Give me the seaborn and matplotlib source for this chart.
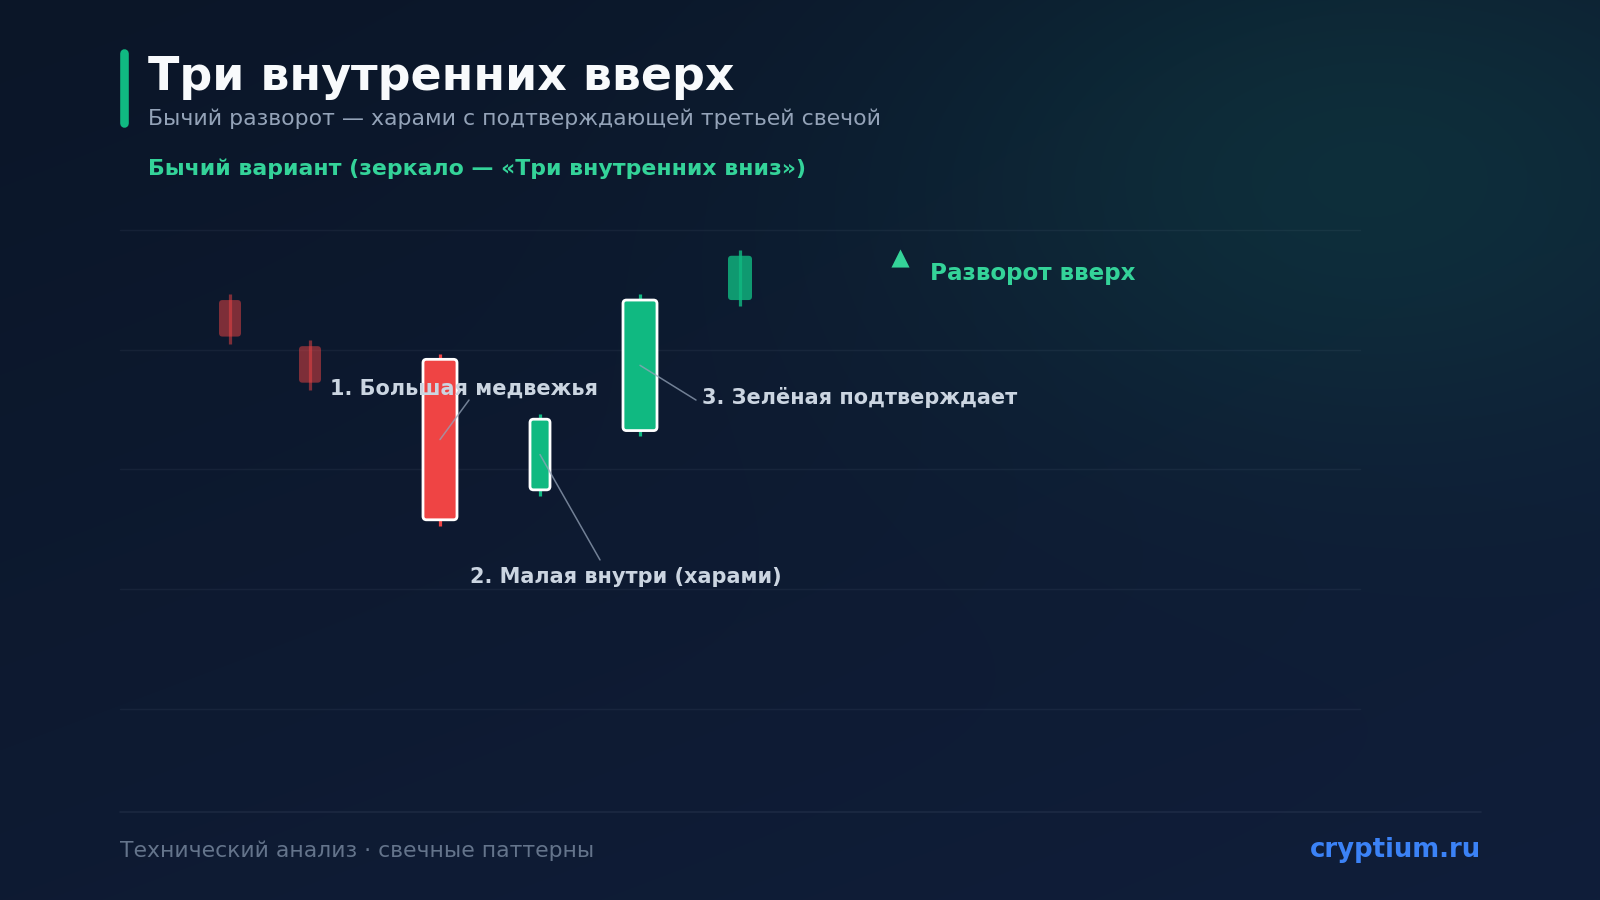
import numpy as np
import seaborn as sns
import matplotlib.pyplot as plt
from matplotlib.patches import FancyBboxPatch
from matplotlib.lines import Line2D

# Свечи: позиции и цены (open / high / low / close)
candle_x = [1.1, 1.9, 3.2, 4.2, 5.2, 6.2]
opens = [134.15, 130.3, 129.2, 118.3, 123.25, 134.15]
highs = [134.65, 130.8, 129.65, 124.65, 134.65, 138.35]
lows = [130.45, 126.6, 115.3, 117.8, 122.8, 133.65]
closes = [131.1, 127.25, 115.8, 124.2, 134.15, 137.85]
body_w = [0.22, 0.22, 0.34, 0.20, 0.34, 0.24]
context_alpha = [0.5, 0.5, 1.0, 1.0, 1.0, 0.8]  # фоновые свечи приглушены

# Подписи к трём свечам паттерна
labels = ["1. Большая медвежья", "2. Малая внутри (харами)", "3. Зелёная подтверждает"]
label_candle = [2, 3, 4]
label_x = [2.10, 3.50, 5.82]
label_y = [126.75, 111.05, 126.05]
leader_x = [3.49, 4.80, 5.76]
leader_y = [125.8, 112.45, 125.8]

# Сигнал разворота
signal_x = [7.8]
signal_y = [137.65]
signal_text = "Разворот вверх"
signal_text_x = 8.10
signal_text_y = 136.38

grid_levels = [100, 110, 120, 130, 140]

RED = "#ef4444"
GREEN = "#10b981"
ACCENT = "#34d399"

sns.set_theme(style="dark")
plt.rcParams["font.family"] = ["DejaVu Sans"]

W, H = 1600, 900
fig = plt.figure(figsize=(16, 9), dpi=100)

# фон: тёмный градиент + бирюзовое свечение справа вверху
yy, xx = np.mgrid[0:H, 0:W]
t = xx / W * 0.4 + yy / H * 0.6
top = np.array([11, 22, 40]) / 255
bot = np.array([16, 30, 58]) / 255
base = top + (bot - top) * t[..., None]
glow = np.exp(-(((xx - 1360) / 450) ** 2 + ((yy - 170) / 280) ** 2))
a = 0.13 * glow[..., None]
img = base * (1 - a) + np.array([16, 185, 129]) / 255 * a
bg = fig.add_axes([0, 0, 1, 1], zorder=-10)
bg.imshow(img, aspect="auto", interpolation="bilinear")
bg.axis("off")

# область графика
ax_l, ax_r, ax_t, ax_b = 120, 1360, 230, 709
ax = fig.add_axes([ax_l / W, 1 - ax_b / H, (ax_r - ax_l) / W, (ax_b - ax_t) / H])
ax.set_facecolor("none")
ax.set_xlim(0, 12.4)
ax.set_ylim(min(grid_levels), max(grid_levels))
ax.set_yticks(grid_levels)
ax.set_xticks([])
ax.tick_params(length=0, labelleft=False, labelbottom=False)
ax.grid(axis="y", color="#94a3b8", alpha=0.08, lw=1.0)
ax.grid(axis="x", visible=False)
for gl in ax.yaxis.get_gridlines():
    gl.set_clip_on(False)
for s in ax.spines.values():
    s.set_visible(False)

px_x = (ax_r - ax_l) / 12.4
px_y = (ax_b - ax_t) / (max(grid_levels) - min(grid_levels))
m_aspect = px_x / px_y

for i, x in enumerate(candle_x):
    o, h, l, c = opens[i], highs[i], lows[i], closes[i]
    col = GREEN if c >= o else RED
    al = context_alpha[i]
    ctx = al < 1
    ax.vlines(x, l, h, color=col, lw=2.3, alpha=al, zorder=4 if ctx else 2)
    body = FancyBboxPatch((x - body_w[i] / 2, min(o, c)), body_w[i], abs(c - o),
                          boxstyle="round,pad=0,rounding_size=0.035",
                          mutation_aspect=m_aspect, facecolor=col, alpha=al,
                          edgecolor="none" if ctx else "white",
                          lw=0 if ctx else 2.0, zorder=3)
    ax.add_patch(body)

for k, txt in enumerate(labels):
    j = label_candle[k]
    cy = (opens[j] + closes[j]) / 2
    ax.plot([candle_x[j], leader_x[k]], [cy, leader_y[k]], color="#94a3b8",
            lw=1.1, alpha=0.75, zorder=5)
    ax.text(label_x[k], label_y[k], txt, color="#cbd5e1", fontsize=15,
            fontweight="bold", va="center", ha="left", zorder=6)

sns.scatterplot(x=signal_x, y=signal_y, marker="^", s=170, color=ACCENT,
                linewidth=0, ax=ax, zorder=6, legend=False)
ax.text(signal_text_x, signal_text_y, signal_text, color=ACCENT, fontsize=16.6,
        fontweight="bold", va="center", ha="left")

# заголовки
fig.add_artist(Line2D([124.3 / W, 124.3 / W], [1 - 53 / H, 1 - 123 / H],
                      color=GREEN, lw=6.2, solid_capstyle="round"))
fig.text(148 / W, 1 - 90 / H, "Три внутренних вверх", color="#f8fafc",
         fontsize=33, fontweight="bold", va="baseline")
fig.text(148 / W, 1 - 125 / H, "Бычий разворот — харами с подтверждающей третьей свечой",
         color="#94a3b8", fontsize=15.8, va="baseline")
fig.text(148 / W, 1 - 175 / H, "Бычий вариант (зеркало — «Три внутренних вниз»)",
         color=ACCENT, fontsize=15.8, fontweight="bold", va="baseline")

# подвал
fig.add_artist(Line2D([120 / W, 1481 / W], [1 - 812 / H, 1 - 812 / H],
                      color="#94a3b8", alpha=0.1, lw=1.2))
fig.text(120 / W, 1 - 857 / H, "Технический анализ · свечные паттерны",
         color="#64748b", fontsize=15.75, va="baseline")
fig.text(1481 / W, 1 - 857 / H, "cryptium.ru", color="#3b82f6", fontsize=18.7,
         fontweight="bold", va="baseline", ha="right")

fig.savefig("out.png", dpi=100)
